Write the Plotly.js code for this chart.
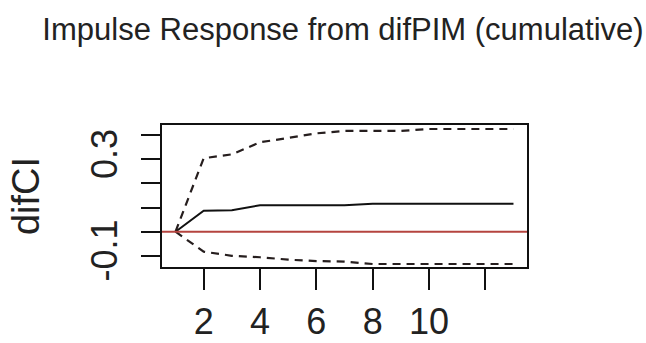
<!DOCTYPE html>
<html>
<head>
<meta charset="utf-8">
<script src="https://cdn.plot.ly/plotly-3.0.1.min.js"></script>
<style>html,body{margin:0;padding:0;background:#fff;}#chart{width:646px;height:343px;}</style>
</head>
<body>
<div id="chart"></div>
<script>
const steps = [1,2,3,4,5,6,7,8,9,10,11,12,13];
const irf   = [0, 0.087, 0.089, 0.1095, 0.1095, 0.1095, 0.1095, 0.116, 0.116, 0.116, 0.116, 0.116, 0.116];
const upper = [0, 0.305, 0.321, 0.371, 0.389, 0.408, 0.418, 0.418, 0.418, 0.426, 0.426, 0.426, 0.426];
const lower = [0, -0.083, -0.100, -0.106, -0.116, -0.122, -0.124, -0.134, -0.134, -0.134, -0.134, -0.134, -0.134];
const xTickVals = [2,4,6,8,10,12];
const xTickText = ["2","4","6","8","10",""];
const yTickVals = [-0.1,0,0.1,0.2,0.3,0.4];
const yTickText = ["-0.1","","","","0.3",""];

const font = "Liberation Sans, Arial, sans-serif";
const traces = [
  {x: steps, y: upper, mode: "lines", line: {color: "#261e1e", width: 2.2, dash: "8px,6px"}, hoverinfo: "skip"},
  {x: steps, y: lower, mode: "lines", line: {color: "#261e1e", width: 2.2, dash: "8px,6px"}, hoverinfo: "skip"},
  {x: steps, y: irf, mode: "lines", line: {color: "#111", width: 2}, hoverinfo: "skip"}
];
const layout = {
  width: 646, height: 343,
  margin: {l: 162, r: 119, t: 125, b: 76},
  paper_bgcolor: "#fff", plot_bgcolor: "#fff",
  showlegend: false,
  font: {family: font, color: "#222"},
  title: {text: "Impulse Response from difPIM (cumulative)", font: {size: 31, color: "#222"},
          x: 343/646, xanchor: "center", xref: "container", yref: "container", y: 1 - 29/343, yanchor: "middle",
          automargin: false},
  xaxis: {range: [0.52, 13.48], tickmode: "array", tickvals: xTickVals, ticktext: xTickText,
          ticks: "outside", ticklen: 21, tickwidth: 2, tickcolor: "#111",
          showgrid: false, zeroline: false, showline: true, mirror: true, linecolor: "#111", linewidth: 2,
          tickfont: {size: 36, color: "#222"}, ticklabelstandoff: 1},
  yaxis: {range: [-0.1465, 0.4427], tickmode: "array", tickvals: yTickVals, ticktext: yTickText,
          ticks: "outside", ticklen: 19, tickwidth: 2, tickcolor: "#111", tickangle: -90,
          showgrid: false, zeroline: false, showline: true, mirror: true, linecolor: "#111", linewidth: 2,
          tickfont: {size: 36, color: "#222"}, ticklabelstandoff: 10,
          title: {text: "difCI", font: {size: 38, color: "#222"}, standoff: 32}},
  shapes: [{type: "line", xref: "paper", x0: 0, x1: 1, yref: "y", y0: 0, y1: 0,
            line: {color: "#b5443f", width: 2}, layer: "above"}]
};
Plotly.newPlot("chart", traces, layout, {staticPlot: true, displayModeBar: false});
</script>
</body>
</html>
